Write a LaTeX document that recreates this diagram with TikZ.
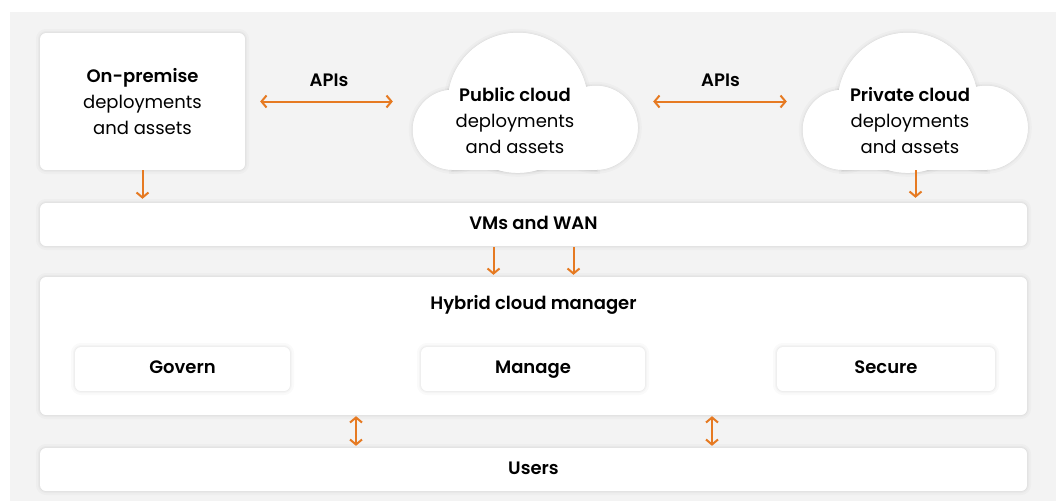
\documentclass[tikz,border=0pt]{standalone}
\usepackage{fontspec}
\setmainfont{Poppins}[BoldFont={Poppins SemiBold}]
\usepackage{xcolor}
\usetikzlibrary{arrows.meta}
\definecolor{bggray}{HTML}{F3F3F3}
\definecolor{arrorange}{HTML}{E67A22}
\tikzstyle{softshade}=[preaction={draw=black,draw opacity=0.02,line width=8pt},
  preaction={draw=black,draw opacity=0.025,line width=4pt},
  preaction={draw=black,draw opacity=0.03,line width=1.5pt}]
\tikzstyle{panel}=[fill=white,rounded corners=6pt,inner sep=0pt,softshade,align=center,font=\fontsize{18}{26}\selectfont]
\tikzstyle{oneline}=[text height=13pt,text depth=4pt]
\tikzstyle{cloudtxt}=[align=center,font=\fontsize{18}{26}\selectfont]
\tikzstyle{flow}=[draw=arrorange,line width=2pt,-{Straight Barb[length=5pt,width=12pt]}]
\tikzstyle{twoway}=[draw=arrorange,line width=2pt,{Straight Barb[length=5pt,width=12pt]}-{Straight Barb[length=5pt,width=12pt]}]

\begin{document}
\begin{tikzpicture}[x=1pt,y=-1pt]
  \useasboundingbox (0,0) rectangle (1056,501);
  \fill[white] (0,0) rectangle (1056,501);
  \fill[bggray] (10,12) rectangle (1056,501);

  % top row
  \node[panel,minimum width=205pt,minimum height=137pt] (onprem) at (142.5,101.5)
    {\textbf{On-premise}\\deployments\\and assets};
  \node[minimum width=225pt,minimum height=137pt] (pub) at (525.5,101.5) {};
  \node[minimum width=225pt,minimum height=137pt] (priv) at (915.5,101.5) {};

  \foreach \c in {pub,priv}{
    \foreach \s in {softshade,white}{
      \begin{scope}[shift={(\c.north west)}]
        \fill[white,\s] (40,97) circle (40);
        \fill[white,\s] (105,70) circle (70);
        \fill[white,\s] (183,95) circle (42);
        \fill[white,\s] (40,80) rectangle (183,137);
      \end{scope}
    }
  }
  \node[cloudtxt] (pubtxt) at (515,121) {\textbf{Public cloud}\\deployments\\and assets};
  \node[cloudtxt] (privtxt) at (910,121) {\textbf{Private cloud}\\deployments\\and assets};

  % layers
  \node[panel,oneline,minimum width=987pt,minimum height=43pt] (vms) at (533.5,224.5) {\textbf{VMs and WAN}};
  \node[panel,minimum width=987pt,minimum height=138pt] (hyb) at (533.5,346) {};
  \node[cloudtxt,oneline] (hybtxt) at ([yshift=-28pt]hyb.north) {\textbf{Hybrid cloud manager}};
  \foreach \n/\x/\w/\t in {gov/182.5/215/Govern,man/533/224/Manage,sec/886/218/Secure}{
    \node[panel,oneline,minimum width=\w pt,minimum height=44pt] (\n) at (\x,369) {\textbf{\t}};
  }
  \node[panel,oneline,minimum width=987pt,minimum height=43pt] (users) at (533.5,469.5) {\textbf{Users}};

  % arrows
  \draw[twoway,shorten <=15pt,shorten >=20pt] (onprem.east) -- (pub.west)
    node[midway,yshift=21pt,font=\fontsize{18}{26}\selectfont] (api1) {\textbf{APIs}};
  \draw[twoway,shorten <=15pt,shorten >=16pt] (pub.east) -- (priv.west)
    node[midway,yshift=21pt,font=\fontsize{18}{26}\selectfont] (api2) {\textbf{APIs}};
  \draw[flow,shorten >=4pt] (onprem.south) -- (onprem.south |- vms.north);
  \draw[flow,shorten >=5pt] (priv.south) -- (priv.south |- vms.north);
  \foreach \dx in {-40,40}{
    \draw[flow,shorten <=1pt,shorten >=2pt] ([xshift=\dx pt]vms.south) -- ([xshift=\dx pt]hyb.north);
  }
  \foreach \dx in {-177.5,178.5}{
    \draw[twoway,shorten <=1pt,shorten >=2pt] ([xshift=\dx pt]hyb.south) -- ([xshift=\dx pt]users.north);
  }
\end{tikzpicture}
\end{document}
